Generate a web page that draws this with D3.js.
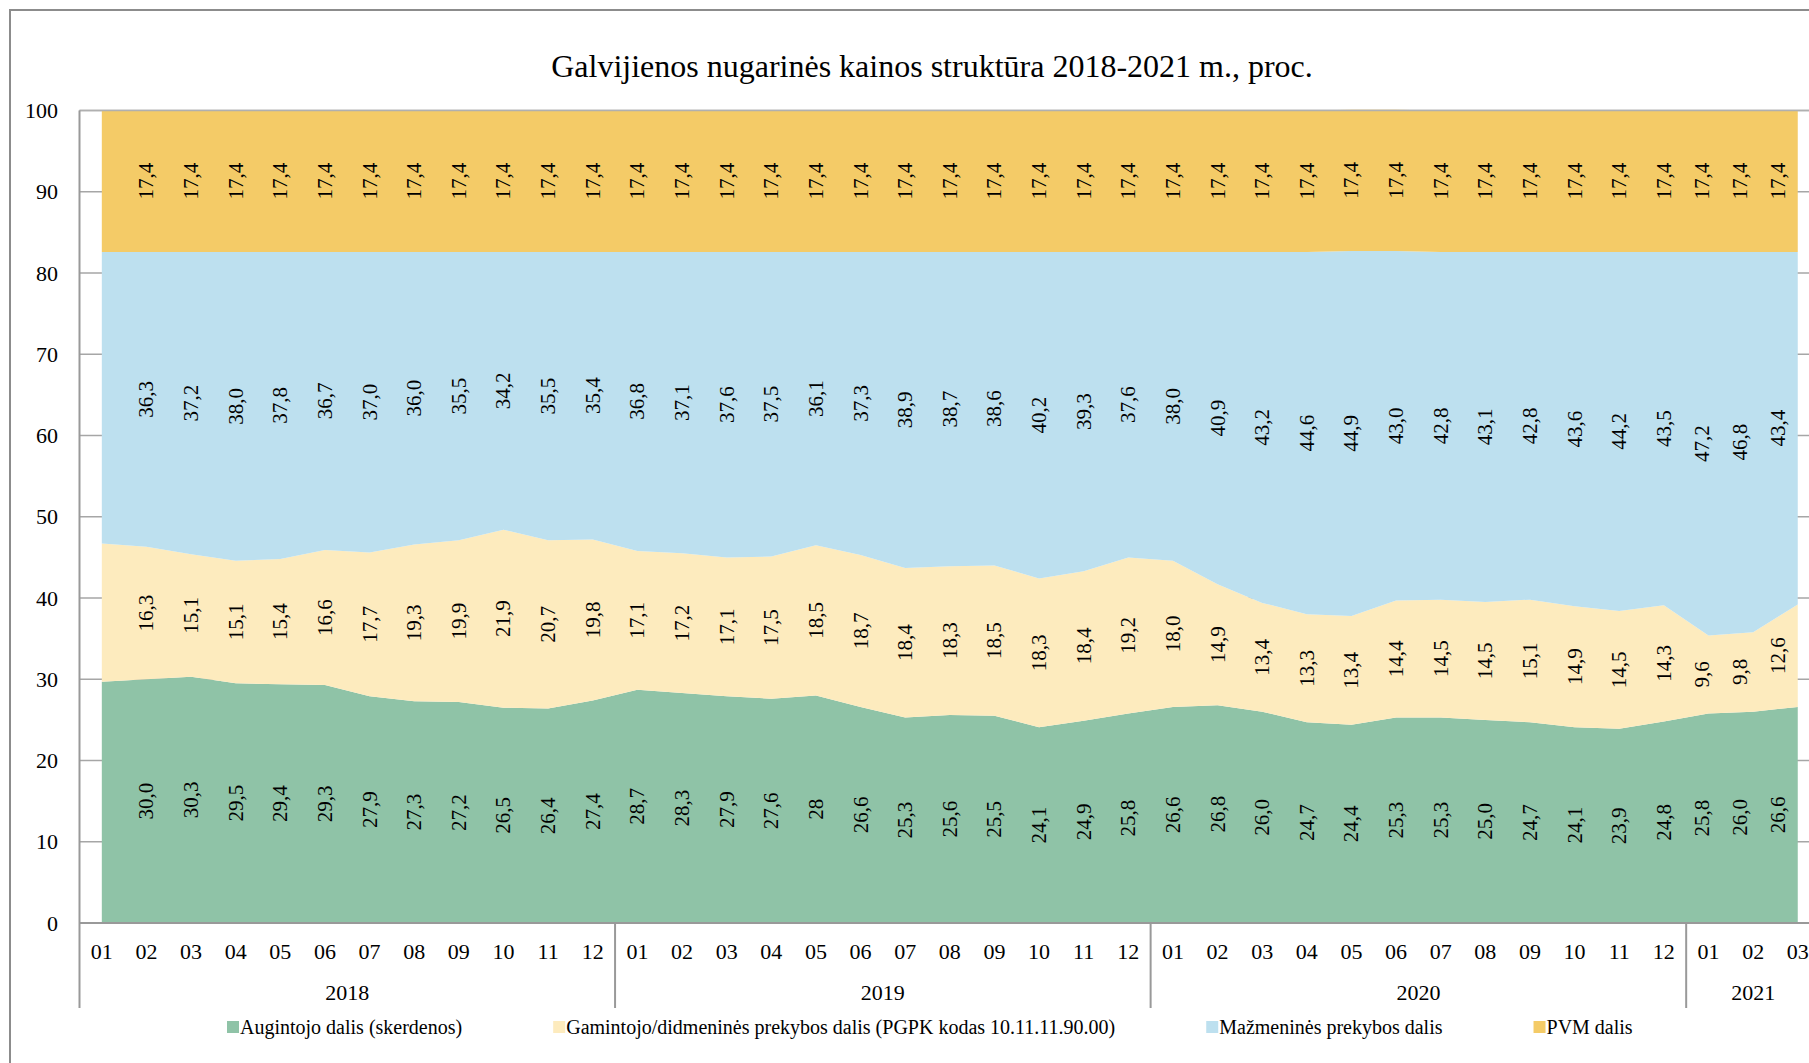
<!DOCTYPE html>
<html>
<head>
<meta charset="utf-8">
<script src="https://cdn.jsdelivr.net/npm/d3@7"></script>
<style>
  html, body { margin: 0; padding: 0; background: #fff; }
  svg { display: block; font-family: "Liberation Serif", "Times New Roman", serif; }
</style>
</head>
<body>
<svg id="chart" width="1809" height="1063"></svg>
<script>
// ---- data ----
const years = ["2018", "2019", "2020", "2021"];
const monthsPerYear = [12, 12, 12, 3];
const months = ["01","02","03","04","05","06","07","08","09","10","11","12",
                "01","02","03","04","05","06","07","08","09","10","11","12",
                "01","02","03","04","05","06","07","08","09","10","11","12",
                "01","02","03"];
const seriesNames = [
  "Augintojo dalis (skerdenos)",
  "Gamintojo/didmeninės prekybos dalis (PGPK kodas 10.11.11.90.00)",
  "Mažmeninės prekybos dalis",
  "PVM dalis"
];
const augintojo = [29.7, 30.0, 30.3, 29.5, 29.4, 29.3, 27.9, 27.3, 27.2, 26.5, 26.4, 27.4,
                   28.7, 28.3, 27.9, 27.6, 28.0, 26.6, 25.3, 25.6, 25.5, 24.1, 24.9, 25.8,
                   26.6, 26.8, 26.0, 24.7, 24.4, 25.3, 25.3, 25.0, 24.7, 24.1, 23.9, 24.8,
                   25.8, 26.0, 26.6];
const gamintojo = [17.0, 16.3, 15.1, 15.1, 15.4, 16.6, 17.7, 19.3, 19.9, 21.9, 20.7, 19.8,
                   17.1, 17.2, 17.1, 17.5, 18.5, 18.7, 18.4, 18.3, 18.5, 18.3, 18.4, 19.2,
                   18.0, 14.9, 13.4, 13.3, 13.4, 14.4, 14.5, 14.5, 15.1, 14.9, 14.5, 14.3,
                   9.6, 9.8, 12.6];
const mazmenines = [35.9, 36.3, 37.2, 38.0, 37.8, 36.7, 37.0, 36.0, 35.5, 34.2, 35.5, 35.4,
                    36.8, 37.1, 37.6, 37.5, 36.1, 37.3, 38.9, 38.7, 38.6, 40.2, 39.3, 37.6,
                    38.0, 40.9, 43.2, 44.6, 44.9, 43.0, 42.8, 43.1, 42.8, 43.6, 44.2, 43.5,
                    47.2, 46.8, 43.4];
const pvm = [17.4, 17.4, 17.4, 17.4, 17.4, 17.4, 17.4, 17.4, 17.4, 17.4, 17.4, 17.4,
             17.4, 17.4, 17.4, 17.4, 17.4, 17.4, 17.4, 17.4, 17.4, 17.4, 17.4, 17.4,
             17.4, 17.4, 17.4, 17.4, 17.4, 17.4, 17.4, 17.4, 17.4, 17.4, 17.4, 17.4,
             17.4, 17.4, 17.4];
// label text overrides (the source shows "28" without decimals for 2019-05)
const labelOverrides = { "0-16": "28" };
const yTicks = [0, 10, 20, 30, 40, 50, 60, 70, 80, 90, 100];
const colors = ["#8fc3a7", "#fdebbe", "#bde0ef", "#f4cb67"];
const title = "Galvijienos nugarinės kainos struktūra 2018-2021 m., proc.";

// ---- build ----
const keys = ["a", "g", "m", "p"];
const rows = months.map((m, i) => ({ idx: i, a: augintojo[i], g: gamintojo[i], m: mazmenines[i], p: pvm[i] }));
const stacked = d3.stack().keys(keys)(rows);

const svg = d3.select("#chart");
const W = 1809, H = 1063;
const left = 79.5, band = 44.63;
const x = d3.scaleBand().domain(d3.range(months.length)).range([left, left + band * months.length]).paddingInner(0).paddingOuter(0);
const cx = i => x(i) + x.bandwidth() / 2;
const y = d3.scaleLinear().domain([0, 100]).range([923, 110.5]);

// outer border
svg.append("rect").attr("x", 10).attr("y", 10).attr("width", W + 20).attr("height", H + 20)
  .attr("fill", "none").attr("stroke", "#8c8c8c").attr("stroke-width", 2);

// title
svg.append("text").attr("x", 932).attr("y", 66).attr("text-anchor", "middle")
  .attr("dominant-baseline", "central").attr("font-size", 32).attr("fill", "#000").text(title);

// gridlines
svg.append("g").selectAll("line").data(yTicks).join("line")
  .attr("x1", left).attr("x2", left + band * months.length)
  .attr("y1", d => y(d)).attr("y2", d => y(d))
  .attr("stroke", "#a6a6a6").attr("stroke-width", 1.5);

// areas
const area = d3.area().x(d => cx(d.data.idx)).y0(d => y(d[0])).y1(d => y(d[1])).curve(d3.curveLinear);
svg.append("g").selectAll("path").data(stacked).join("path")
  .attr("d", area).attr("fill", (d, i) => colors[i]);

// top gridline over areas
svg.append("line").attr("x1", left).attr("x2", left + band * months.length)
  .attr("y1", y(100)).attr("y2", y(100)).attr("stroke", "#b0b0b0").attr("stroke-width", 1.5);

// y axis
svg.append("line").attr("x1", left).attr("x2", left).attr("y1", y(100)).attr("y2", 1008)
  .attr("stroke", "#999").attr("stroke-width", 2);
svg.append("g").selectAll("text").data(yTicks).join("text")
  .attr("x", 58).attr("y", d => y(d)).attr("text-anchor", "end").attr("dominant-baseline", "central")
  .attr("font-size", 22).text(d => d);

// x axis line
svg.append("line").attr("x1", left).attr("x2", left + band * months.length).attr("y1", y(0)).attr("y2", y(0))
  .attr("stroke", "#999").attr("stroke-width", 2);

// month labels
svg.append("g").selectAll("text").data(months).join("text")
  .attr("x", (d, i) => cx(i)).attr("y", 951).attr("text-anchor", "middle").attr("dominant-baseline", "central")
  .attr("font-size", 22).text(d => d);

// year groups
let start = 0;
const groups = years.map((yr, k) => { const g = { yr, s: start, n: monthsPerYear[k] }; start += monthsPerYear[k]; return g; });
svg.append("g").selectAll("line").data(groups.slice(1)).join("line")
  .attr("x1", d => x(d.s)).attr("x2", d => x(d.s)).attr("y1", y(0)).attr("y2", 1008)
  .attr("stroke", "#999").attr("stroke-width", 2);
svg.append("g").selectAll("text").data(groups).join("text")
  .attr("x", d => x(d.s) + band * d.n / 2).attr("y", 992).attr("text-anchor", "middle")
  .attr("dominant-baseline", "central").attr("font-size", 22).text(d => d.yr);

// data labels (the last few are nudged left to stay inside the plot, as in the source)
const fmt = v => d3.format(".1f")(v).replace(".", ",");
const n = months.length;
const labelData = [];
stacked.forEach((s, si) => {
  s.forEach((d, i) => {
    if (i === 0) return; // first month has no labels in the source
    const key = si + "-" + i;
    labelData.push({
      x: cx(i) - Math.max(0, i - (n - 4)) * 6.7,
      y: y((d[0] + d[1]) / 2),
      t: labelOverrides[key] || fmt(d[1] - d[0])
    });
  });
});
svg.append("g").selectAll("text").data(labelData).join("text")
  .attr("transform", d => `translate(${d.x},${d.y}) rotate(-90)`)
  .attr("text-anchor", "middle").attr("dominant-baseline", "central")
  .attr("font-size", 21).attr("fill", "#000").text(d => d.t);

// legend
const lg = svg.append("g").attr("font-size", 20);
let lx = 227;
seriesNames.forEach((name, i) => {
  lg.append("rect").attr("x", lx).attr("y", 1021).attr("width", 12).attr("height", 12).attr("fill", colors[i]);
  const t = lg.append("text").attr("x", lx + 13).attr("y", 1027).attr("dominant-baseline", "central").text(name);
  lx += 13 + t.node().getComputedTextLength() + 91;
});
</script>
</body>
</html>
